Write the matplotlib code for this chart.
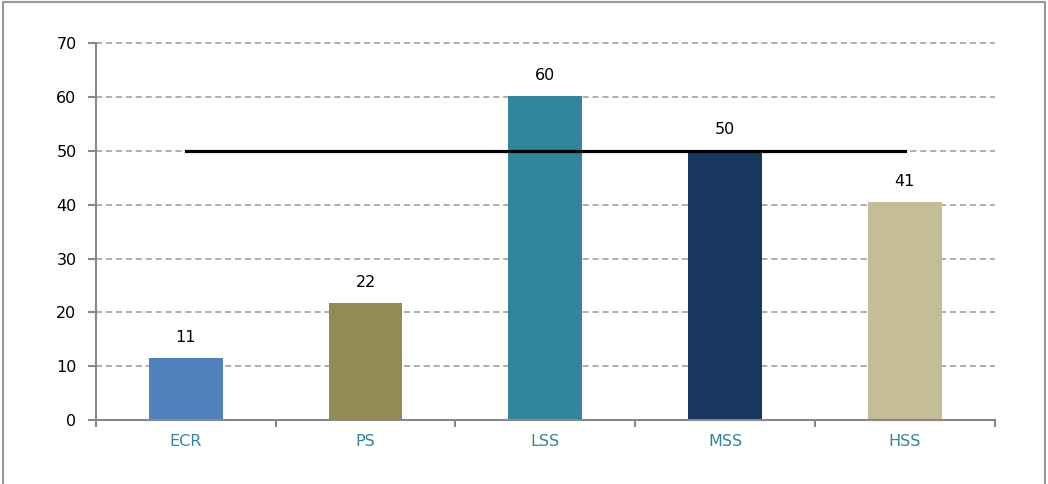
import matplotlib.pyplot as plt
from matplotlib.patches import Rectangle
import numpy as np

categories = ['ECR', 'PS', 'LSS', 'MSS', 'HSS']
values = [11.5, 21.7, 60.2, 50.2, 40.5]
labels = ['11', '22', '60', '50', '41']
target = 50
colors = ['#4F81BD', '#948A54', '#31859C', '#17375E', '#C4BD97']

fig = plt.figure(figsize=(10.48, 4.84), dpi=100)
fig.patches.append(Rectangle((0.003, -0.01), 0.994, 1.005, transform=fig.transFigure,
                             fill=False, edgecolor='#999999', lw=1.5))
ax = fig.add_axes([0.0916, 0.132, 0.8574, 0.779])

x = np.arange(len(categories))
ax.bar(x, values, width=0.41, color=colors, zorder=2)
for xi, v, lab in zip(x, values, labels):
    ax.text(xi, v + 2.4, lab, ha='center', va='bottom', fontsize=11.5, color='black')
ax.plot([x[0], x[-1]], [target, target], color='black', lw=2.3, zorder=3)

ax.set_xlim(-0.5, 4.5)
ax.set_ylim(0, 70)
ax.set_yticks(np.arange(0, 71, 10))
ax.set_yticklabels([str(t) for t in range(0, 71, 10)], fontsize=11.5)
ax.set_xticks(np.arange(-0.5, 4.6, 1.0))
ax.set_xticklabels([])
ax.set_xticks(x, minor=True)
ax.set_xticklabels(categories, minor=True, fontsize=11.5, color='#31859C')
ax.tick_params(axis='x', which='minor', length=0, pad=10)
ax.tick_params(axis='x', which='major', length=5, color='#888888', width=1.5)
ax.tick_params(axis='y', length=6, color='#888888', width=1.5, pad=8)
ax.yaxis.grid(True, linestyle=(0, (4, 2.5)), color='#999999', lw=1.1, zorder=0)
for gl in ax.yaxis.get_gridlines():
    gl.set_clip_on(False)
ax.set_axisbelow(True)
for s in ['top', 'right']:
    ax.spines[s].set_visible(False)
for s in ['left', 'bottom']:
    ax.spines[s].set_color('#888888')
    ax.spines[s].set_linewidth(1.5)

fig.savefig('out.png', dpi=100)
